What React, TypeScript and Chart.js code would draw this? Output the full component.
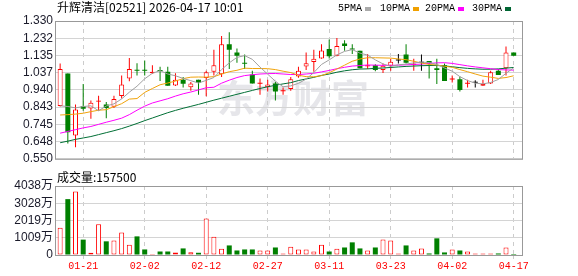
import React, { useEffect, useRef } from "react";
import { Chart, registerables } from "chart.js";

Chart.register(...registerables);

// ---------------- data ----------------
const TITLE = "升辉清洁[02521] 2026-04-17 10:01";
const VOLUME_TITLE = "成交量:157500";
const MA_NAMES = ["5PMA", "10PMA", "20PMA", "30PMA"];
const DATE_LABELS = ["01-21", "02-02", "02-12", "02-27", "03-11", "03-23", "04-02", "04-17"];
const DATE_POSITIONS = [3, 11, 19, 27, 35, 43, 51, 59];
const PRICE_TICK_LABELS = ["0.550", "0.648", "0.745", "0.843", "0.940", "1.037", "1.135", "1.232", "1.330"];
const VOLUME_TICK_VALUES = [0, 1009.5, 2019, 3028.5, 4038];
const VOLUME_TICK_LABELS = ["0", "1009万", "2019万", "3028万", "4038万"];

const OPEN = [
  0.849, 1.033, 0.682, 0.848, 0.835, 0.873, 0.858, 0.844, 0.906, 1.004,
  1.050, 1.050, 1.034, 1.049, 1.043, 0.965, 0.998, 0.955, 0.998, 1.007,
  1.043, 1.029, 1.199, 1.152, 1.092, 1.027, 0.975, 0.955, 0.976, 0.933,
  0.945, 1.016, 1.072, 1.098, 1.118, 1.172, 1.134, 1.203, 1.171, 1.161,
  1.074, 1.080, 1.053, 1.076, 1.107, 1.140, 1.080, 1.094, 1.103, 1.062,
  1.080, 0.999, 1.000, 0.975, 0.980, 0.964, 0.976, 1.049, 1.062, 1.152,
];
const HIGH = [
  1.090, 1.033, 0.858, 0.973, 0.880, 0.907, 0.871, 0.907, 1.022, 1.120,
  1.091, 1.107, 1.080, 1.071, 1.071, 1.034, 1.013, 0.985, 0.998, 1.049,
  1.167, 1.245, 1.267, 1.174, 1.140, 1.049, 1.004, 0.998, 0.985, 0.953,
  1.013, 1.071, 1.152, 1.167, 1.199, 1.225, 1.234, 1.221, 1.199, 1.161,
  1.143, 1.085, 1.089, 1.116, 1.143, 1.199, 1.116, 1.140, 1.103, 1.116,
  1.089, 1.022, 1.016, 0.998, 0.994, 0.998, 1.049, 1.058, 1.185, 1.152,
];
const LOW = [
  0.846, 0.637, 0.615, 0.822, 0.777, 0.822, 0.780, 0.837, 0.891, 0.989,
  1.022, 1.022, 1.031, 0.991, 0.964, 0.962, 0.953, 0.935, 0.913, 0.904,
  1.022, 1.013, 1.058, 1.094, 1.058, 0.976, 0.913, 0.931, 0.880, 0.913,
  0.935, 1.009, 1.053, 1.043, 1.116, 1.118, 1.131, 1.161, 1.143, 1.062,
  1.058, 1.045, 1.036, 1.049, 1.089, 1.089, 1.049, 1.049, 1.004, 0.973,
  0.991, 0.982, 0.931, 0.953, 0.953, 0.964, 0.973, 1.025, 1.022, 1.134,
];
const CLOSE = [
  1.058, 0.700, 0.829, 0.833, 0.867, 0.880, 0.837, 0.889, 0.971, 1.058,
  1.048, 1.049, 1.043, 1.047, 0.964, 0.998, 0.975, 0.976, 0.980, 1.040,
  1.080, 1.199, 1.167, 1.134, 1.088, 0.976, 0.978, 0.971, 0.931, 0.936,
  1.000, 1.049, 1.091, 1.116, 1.163, 1.131, 1.189, 1.189, 1.169, 1.062,
  1.076, 1.053, 1.076, 1.100, 1.107, 1.094, 1.089, 1.094, 1.091, 1.053,
  0.991, 1.001, 0.940, 0.978, 0.980, 0.973, 1.040, 1.025, 1.152, 1.134,
];
// volume in 万
const VOLUME = [
  1600, 3270, 3720, 900, 130, 1800, 800, 855, 1310, 600,
  1090, 325, 30, 205, 205, 150, 385, 165, 130, 2135,
  1075, 365, 560, 265, 325, 325, 265, 265, 440, 90,
  485, 325, 325, 205, 600, 205, 365, 440, 740, 385,
  265, 440, 910, 855, 90, 560, 265, 385, 90, 975,
  150, 325, 265, 205, 90, 90, 90, 90, 440, 15.75,
];
const MA5 = [
  0.850, 0.846, 0.838, 0.846, 0.850, 0.822, 0.849, 0.861, 0.889, 0.927,
  0.961, 1.003, 1.034, 1.049, 1.030, 1.020, 1.005, 0.992, 0.979, 0.994,
  1.010, 1.055, 1.093, 1.124, 1.134, 1.113, 1.069, 1.029, 0.989, 0.958,
  0.963, 0.977, 1.001, 1.038, 1.084, 1.110, 1.138, 1.158, 1.168, 1.148,
  1.137, 1.110, 1.087, 1.073, 1.082, 1.086, 1.093, 1.097, 1.095, 1.084,
  1.064, 1.046, 1.015, 0.993, 0.978, 0.974, 0.982, 0.999, 1.034, 1.065,
];
const MA10 = [
  0.798, 0.800, 0.803, 0.808, 0.817, 0.825, 0.828, 0.845, 0.862, 0.888,
  0.891, 0.926, 0.948, 0.969, 0.979, 0.990, 1.004, 1.012, 1.013, 1.012,
  1.015, 1.030, 1.043, 1.051, 1.063, 1.061, 1.061, 1.060, 1.055, 1.046,
  1.038, 1.023, 1.015, 1.014, 1.021, 1.037, 1.058, 1.080, 1.102, 1.115,
  1.122, 1.122, 1.121, 1.120, 1.115, 1.111, 1.102, 1.092, 1.084, 1.081,
  1.074, 1.068, 1.055, 1.043, 1.030, 1.018, 1.012, 1.005, 1.010, 1.020,
];
const MA20 = [
  0.695, 0.705, 0.715, 0.725, 0.733, 0.745, 0.757, 0.768, 0.780, 0.800,
  0.825, 0.848, 0.866, 0.878, 0.890, 0.905, 0.918, 0.928, 0.940, 0.952,
  0.955, 0.978, 0.995, 1.010, 1.021, 1.026, 1.030, 1.032, 1.033, 1.030,
  1.027, 1.027, 1.030, 1.034, 1.042, 1.050, 1.060, 1.068, 1.075, 1.078,
  1.081, 1.080, 1.079, 1.079, 1.080, 1.082, 1.084, 1.086, 1.090, 1.093,
  1.094, 1.090, 1.083, 1.076, 1.070, 1.065, 1.060, 1.055, 1.053, 1.052,
];
const MA30 = [
  0.641, 0.650, 0.660, 0.668, 0.676, 0.687, 0.698, 0.709, 0.721, 0.735,
  0.750, 0.766, 0.781, 0.796, 0.811, 0.824, 0.836, 0.847, 0.858, 0.870,
  0.882, 0.893, 0.904, 0.915, 0.926, 0.937, 0.948, 0.958, 0.966, 0.974,
  0.981, 0.993, 1.002, 1.011, 1.022, 1.030, 1.040, 1.048, 1.054, 1.058,
  1.059, 1.062, 1.064, 1.067, 1.070, 1.073, 1.075, 1.077, 1.078, 1.078,
  1.076, 1.071, 1.066, 1.062, 1.059, 1.057, 1.057, 1.059, 1.063, 1.067,
];

// ---------------- styles ----------------
const RED = "#ff0000";
const GREEN = "#008000";
const BLACK = "#000000";
const MA_COLORS = ["#a0a0a0", "#f0a30a", "#ff00ff", "#006f35"];
const LEGEND_SWATCH = ["#aaaaaa", "#f0a000", "#ff00ff", "#006633"];
const X_MIN = -0.669;
const X_MAX = 60.08;
const AXIS_FONT = "'Liberation Sans', Arial, 'Noto Sans CJK SC', sans-serif";

const framePlugin = {
  id: "frame",
  beforeDatasetsDraw(chart: any) {
    const { ctx, chartArea: a } = chart;
    ctx.save();
    ctx.strokeStyle = "#999999";
    ctx.lineWidth = 1;
    ctx.strokeRect(a.left + 0.5, a.top + 0.5, a.right - a.left, a.bottom - a.top);
    ctx.restore();
  },
};

const priceTextPlugin = {
  id: "priceText",
  beforeDraw(chart: any) {
    const { ctx } = chart;
    ctx.save();
    ctx.fillStyle = "#e6e6ea";
    ctx.font = "bold 38px 'Noto Sans CJK SC'";
    ctx.textBaseline = "middle";
    ctx.fillText("东方财富", 217, 98);
    ctx.restore();
  },
  afterDraw(chart: any) {
    const { ctx } = chart;
    ctx.save();
    ctx.fillStyle = "#000";
    ctx.textBaseline = "middle";
    ctx.font = "12px 'Noto Sans CJK SC'";
    ctx.fillText(TITLE, 57, 7.5);
    ctx.font = "10px 'Liberation Mono', monospace";
    const xs = [338, 380, 425, 472];
    MA_NAMES.forEach((name, k) => {
      ctx.fillStyle = "#000";
      ctx.fillText(name, xs[k], 8.5);
      const w = ctx.measureText(name).width;
      ctx.fillStyle = LEGEND_SWATCH[k];
      ctx.fillRect(xs[k] + w + 3, 7, 6, 4);
    });
    ctx.restore();
  },
};

const volumeTextPlugin = {
  id: "volText",
  afterDraw(chart: any) {
    const { ctx } = chart;
    ctx.save();
    ctx.fillStyle = "#000";
    ctx.textBaseline = "middle";
    ctx.font = "12px 'Noto Sans CJK SC'";
    ctx.fillText(VOLUME_TITLE, 57, 9.5);
    ctx.restore();
  },
};

function xScale(showLabels: boolean) {
  return {
    type: "linear",
    min: X_MIN,
    max: X_MAX,
    offset: false,
    afterBuildTicks: (s: any) => {
      s.ticks = DATE_POSITIONS.map((v) => ({ value: v }));
    },
    afterFit: (s: any) => {
      s.height = showLabels ? 21 : 0;
    },
    grid: {
      color: "#cccccc",
      offset: false,
      drawTicks: showLabels,
      tickLength: 4,
    },
    border: { display: false, dash: [4, 4] },
    ticks: {
      display: showLabels,
      autoSkip: false,
      maxRotation: 0,
      padding: 1,
      color: RED,
      font: { family: "'Liberation Mono', monospace", size: 10 },
      callback: (_v: any, i: number) => DATE_LABELS[i],
    },
  };
}

function yScale(min: number, max: number, values: number[], labels: string[]) {
  return {
    type: "linear",
    min,
    max,
    afterBuildTicks: (s: any) => {
      s.ticks = values.map((v) => ({ value: v }));
    },
    afterFit: (s: any) => {
      s.width = 55;
    },
    grid: { color: "#d4d4d4", drawTicks: false },
    border: { display: false },
    ticks: {
      autoSkip: false,
      padding: 2,
      color: "#1a1a2a",
      font: { family: AXIS_FONT, size: 12 },
      callback: (_v: any, i: number) => labels[i],
    },
  };
}

export default function App() {
  const priceRef = useRef<HTMLCanvasElement>(null);
  const volRef = useRef<HTMLCanvasElement>(null);

  useEffect(() => {
    const idx = CLOSE.map((_, i) => i);
    const dir = idx.map((i) => (CLOSE[i] > OPEN[i] ? 1 : CLOSE[i] < OPEN[i] ? -1 : 0));
    const cColor = idx.map((i) => (dir[i] > 0 ? RED : dir[i] < 0 ? GREEN : BLACK));
    const hollow = idx.map((i) => CLOSE[i] - OPEN[i] > 0.005);

    const maSets = [MA5, MA10, MA20, MA30].map((arr, k) => ({
      type: "line",
      data: arr.map((v, i) => ({ x: i, y: v })),
      borderColor: MA_COLORS[k],
      borderWidth: 1,
      pointRadius: 0,
      fill: false,
      tension: 0,
      order: 0,
    }));

    const price = new Chart(priceRef.current as HTMLCanvasElement, {
      type: "bar",
      data: {
        datasets: [
          ...maSets,
          {
            type: "bar",
            data: idx.map((i) => ({ x: i, y: [OPEN[i], CLOSE[i]] })),
            backgroundColor: idx.map((i) => (hollow[i] ? "#ffffff" : cColor[i])),
            borderColor: cColor,
            borderWidth: idx.map((i) => (hollow[i] ? 1 : 0)),
            borderSkipped: false,
            barThickness: 5,
            minBarLength: 1,
            grouped: false,
            inflateAmount: 0,
            order: 1,
          },
          {
            type: "bar",
            data: idx.map((i) => ({ x: i, y: [LOW[i], HIGH[i]] })),
            backgroundColor: cColor,
            borderWidth: 0,
            barThickness: 1,
            minBarLength: 1,
            grouped: false,
            inflateAmount: 0,
            order: 2,
          },
        ] as any,
      },
      options: {
        animation: false,
        responsive: false,
        devicePixelRatio: 1,
        events: [],
        layout: { padding: { left: 0, right: 56, top: 21, bottom: 3 } },
        plugins: { legend: { display: false }, tooltip: { enabled: false } },
        scales: {
          x: xScale(false) as any,
          y: yScale(0.55, 1.33, PRICE_TICK_LABELS.map((l) => parseFloat(l)), PRICE_TICK_LABELS) as any,
        },
      } as any,
      plugins: [framePlugin, priceTextPlugin],
    });

    const volume = new Chart(volRef.current as HTMLCanvasElement, {
      type: "bar",
      data: {
        datasets: [
          {
            type: "bar",
            data: idx.map((i) => ({ x: i, y: VOLUME[i] })),
            backgroundColor: idx.map((i) => (dir[i] < 0 ? GREEN : "#ffffff")),
            borderColor: idx.map((i) => (dir[i] < 0 ? GREEN : RED)),
            borderWidth: idx.map((i) => (dir[i] < 0 ? 0 : 1)),
            borderSkipped: false,
            barThickness: 5,
            minBarLength: 1,
            grouped: false,
            inflateAmount: 0,
          },
        ] as any,
      },
      options: {
        animation: false,
        responsive: false,
        devicePixelRatio: 1,
        events: [],
        layout: { padding: { left: 0, right: 56, top: 18, bottom: 0 } },
        plugins: { legend: { display: false }, tooltip: { enabled: false } },
        scales: {
          x: xScale(true) as any,
          y: yScale(0, 4038, VOLUME_TICK_VALUES, VOLUME_TICK_LABELS) as any,
        },
      } as any,
      plugins: [framePlugin, volumeTextPlugin],
    });

    return () => {
      price.destroy();
      volume.destroy();
    };
  }, []);

  return (
    <div style={{ position: "fixed", left: 0, top: 0, width: 578, height: 276, background: "#fff" }}>
      <canvas
        ref={priceRef}
        width={578}
        height={168}
        style={{ position: "absolute", left: 0, top: 0, width: 578, height: 168 }}
      />
      <canvas
        ref={volRef}
        width={578}
        height={108}
        style={{ position: "absolute", left: 0, top: 168, width: 578, height: 108 }}
      />
    </div>
  );
}
